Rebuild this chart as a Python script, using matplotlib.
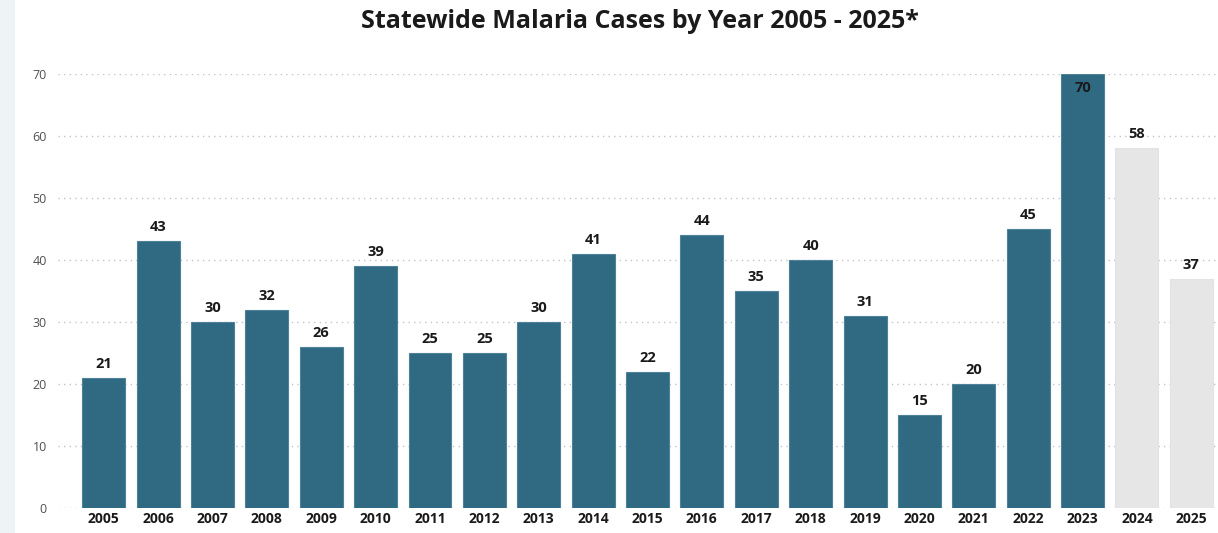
import matplotlib
matplotlib.use("Agg")
import matplotlib.pyplot as plt
from matplotlib.patches import Rectangle

years = ["2005", "2006", "2007", "2008", "2009", "2010", "2011", "2012", "2013", "2014",
         "2015", "2016", "2017", "2018", "2019", "2020", "2021", "2022", "2023", "2024", "2025"]
cases = [21, 43, 30, 32, 26, 39, 25, 25, 30, 41, 22, 44, 35, 40, 31, 15, 20, 45, 70, 58, 37]
provisional = ["2024", "2025"]
yticks = [0, 10, 20, 30, 40, 50, 60, 70]

W, H = 1218, 533
fig = plt.figure(figsize=(W / 100, H / 100), dpi=100)
fig.patches.append(Rectangle((0, 0), 15 / W, 1, transform=fig.transFigure,
                             facecolor="#eef3f5", edgecolor="none", zorder=0))

ax = fig.add_axes([58 / W, (H - 508) / H, (W - 58) / W, 434 / H])
ax.set_facecolor("none")

main_col = "#2f6982"
prov_col = "#e6e6e6"
colors = [prov_col if y in provisional else main_col for y in years]
edges = ["#e3e3e3" if y in provisional else "#4f8199" for y in years]
x = list(range(len(years)))
ax.bar(x, cases, width=0.79, color=colors, edgecolor=edges, linewidth=0.8, zorder=2)

for xi, v in zip(x, cases):
    if v >= 70:
        ax.annotate(str(v), (xi, v), xytext=(0, -14), textcoords="offset pixels",
                    ha="center", va="center", fontsize=10.5, fontweight="bold",
                    color="#1a1a1a", family="Open Sans", zorder=3)
    else:
        ax.annotate(str(v), (xi, v), xytext=(0, 14), textcoords="offset pixels",
                    ha="center", va="center", fontsize=10.5, fontweight="bold",
                    color="#1a1a1a", family="Open Sans", zorder=3)

ax.set_xlim(-0.84, 20.49)
ax.set_ylim(0, 70)
ax.set_yticks(yticks)
ax.set_yticklabels([str(t) for t in yticks], fontsize=9, color="#505050", family="Open Sans")
ax.set_xticks(x)
ax.set_xticklabels(years, fontsize=10, fontweight="bold", color="#1a1a1a", family="Open Sans")
ax.tick_params(axis="both", length=0)
ax.tick_params(axis="y", pad=8)
ax.tick_params(axis="x", pad=3)
for s in ax.spines.values():
    s.set_visible(False)
ax.yaxis.grid(True, linestyle=(0, (1, 3)), color="#c4c4c4", linewidth=1, zorder=1)
ax.set_axisbelow(True)

fig.text(640 / W, 1 - 21 / H, "Statewide Malaria Cases by Year 2005 - 2025*",
         ha="center", va="center", fontsize=18, fontweight="bold", color="#1a1a1a",
         family="Open Sans")

fig.savefig("out.png", dpi=100)
